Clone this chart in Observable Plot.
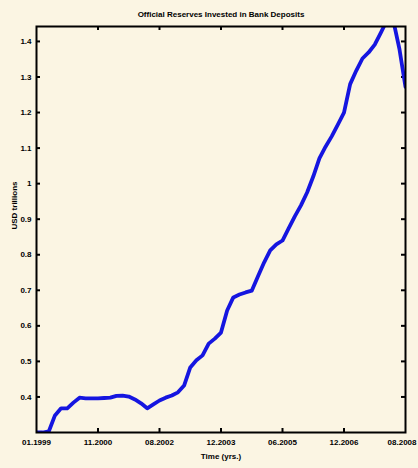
<!DOCTYPE html>
<html>
<head>
<meta charset="utf-8">
<script src="https://cdn.jsdelivr.net/npm/d3@7"></script>
<script src="https://cdn.jsdelivr.net/npm/@observablehq/plot@0.6"></script>
<style>
html,body{margin:0;padding:0;background:#fbf5e3;}
#chart{width:418px;height:468px;}
svg{display:block;}
</style>
</head>
<body>
<div id="chart"></div>
<script>
const title = "Official Reserves Invested in Bank Deposits";
const yLabel = "USD trillions";
const xLabel = "Time (yrs.)";
const xTickPos = [0, 10, 20, 30, 40, 50, 60];
const xTickLabels = ["01.1999", "11.2000", "08.2002", "12.2003", "06.2005", "12.2006", "08.2008"];
const yTicks = [0.4, 0.5, 0.6, 0.7, 0.8, 0.9, 1.0, 1.1, 1.2, 1.3, 1.4];
const reserves = [
  0.300, 0.300, 0.303, 0.348, 0.368, 0.368, 0.384, 0.398, 0.396, 0.396,
  0.396, 0.397, 0.398, 0.403, 0.404, 0.401, 0.393, 0.382, 0.368, 0.379,
  0.390, 0.398, 0.404, 0.413, 0.432, 0.483, 0.503, 0.517, 0.550, 0.564,
  0.581, 0.643, 0.680, 0.688, 0.694, 0.699, 0.739, 0.778, 0.812, 0.829,
  0.840, 0.874, 0.908, 0.939, 0.975, 1.020, 1.071, 1.104, 1.133, 1.166,
  1.200, 1.280, 1.318, 1.352, 1.369, 1.391, 1.425, 1.460, 1.460, 1.380,
  1.272
];
const data = reserves.map((v, i) => ({i, v}));
const W = 418, H = 468;
const mt = 26, mb = 36, ml = 36, mr = 13;
const ph = H - mt - mb, pw = W - ml - mr;
const font = "'Liberation Sans', Arial, sans-serif";
const lastIdx = xTickPos.length - 1;

const chart = Plot.plot({
  width: W, height: H,
  marginTop: mt, marginBottom: mb, marginLeft: ml, marginRight: mr,
  style: {background: "#fbf5e3", fontFamily: font, fontSize: "8px", fontWeight: "bold", color: "black"},
  x: {domain: [0, 60]},
  y: {domain: [0.3, 1.442]},
  marks: [
    Plot.axisX(xTickPos.slice(0, lastIdx), {tickSize: 0, tickPadding: 7, tickFormat: (d, k) => xTickLabels[k], label: null, fontWeight: "bold", fontSize: 8}),
    Plot.axisX([xTickPos[lastIdx]], {tickSize: 0, tickPadding: 7, tickFormat: () => xTickLabels[lastIdx], label: null, fontWeight: "bold", fontSize: 8, textAnchor: "end", dx: 11}),
    Plot.axisY(yTicks, {tickSize: 0, tickPadding: 5, tickFormat: d => d === 1 ? "1" : d.toFixed(1), label: null, fontWeight: "bold", fontSize: 8}),
    Plot.tickX(xTickPos.slice(1, -1), {x: d => d, insetTop: ph - 4, stroke: "black", strokeWidth: 2}),
    Plot.tickX(xTickPos.slice(1, -1), {x: d => d, insetBottom: ph - 4, stroke: "black", strokeWidth: 2}),
    Plot.tickY(yTicks, {y: d => d, insetLeft: 0, insetRight: pw - 4, stroke: "black", strokeWidth: 2}),
    Plot.tickY(yTicks, {y: d => d, insetLeft: pw - 4, stroke: "black", strokeWidth: 2}),
    Plot.line(data, {x: "i", y: "v", stroke: "#1515e0", strokeWidth: 3.8, clip: true}),
    Plot.frame({stroke: "black", strokeWidth: 2}),
    Plot.text([title], {frameAnchor: "top", dy: -15, fontSize: 8, fontWeight: "bold", fill: "black"}),
    Plot.text([xLabel], {frameAnchor: "bottom", dy: 26, fontSize: 8, fontWeight: "bold", fill: "black"}),
    Plot.text([yLabel], {frameAnchor: "left", dx: -22, rotate: -90, fontSize: 8, fontWeight: "bold", fill: "black"})
  ]
});
document.getElementById("chart").appendChild(chart);
</script>
</body>
</html>
